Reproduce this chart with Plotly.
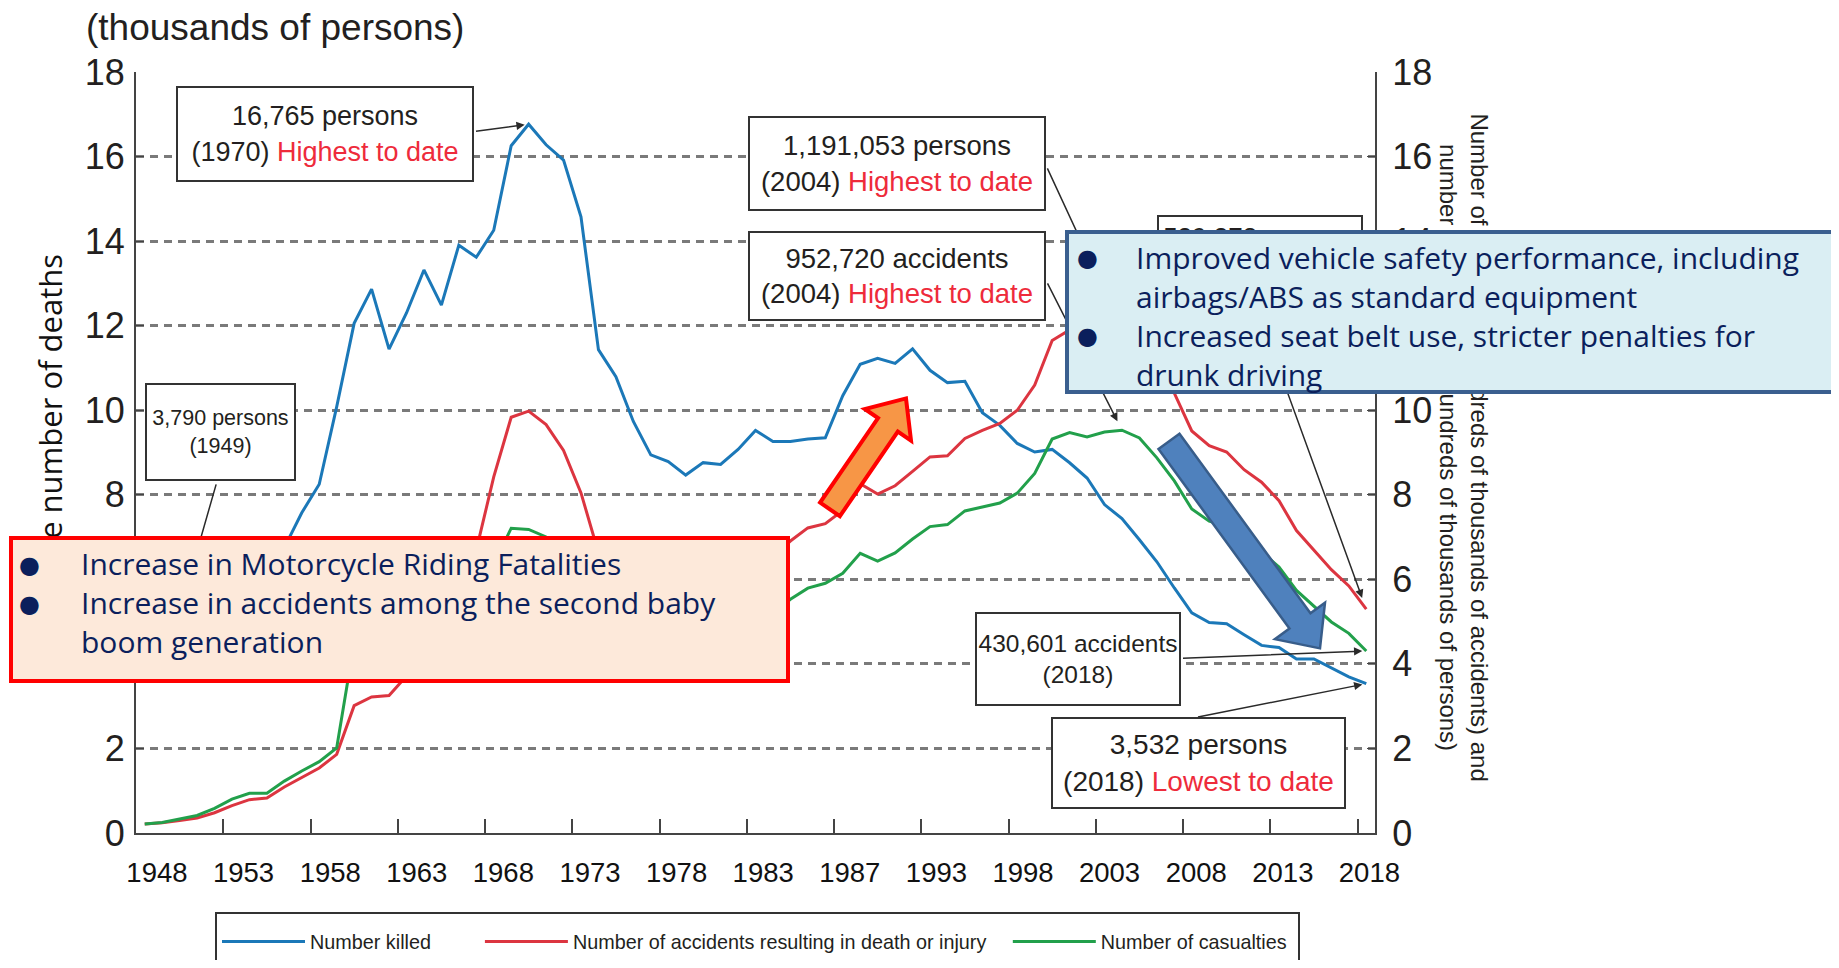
import plotly.graph_objects as go

# ---------------- data ----------------
years = list(range(1948, 2019))

# Number killed (thousands of persons)
killed = [3.848, 3.790, 4.202, 4.429, 4.696, 5.544, 6.374, 6.379, 6.751, 7.575,
          8.248, 10.079, 12.055, 12.865, 11.445, 12.301, 13.318, 12.484, 13.904, 13.618,
          14.256, 16.257, 16.765, 16.278, 15.918, 14.574, 11.432, 10.792, 9.734, 8.945,
          8.783, 8.466, 8.760, 8.719, 9.073, 9.520, 9.262, 9.261, 9.317, 9.347,
          10.344, 11.086, 11.227, 11.109, 11.452, 10.945, 10.653, 10.684, 9.943, 9.642,
          9.214, 9.012, 9.073, 8.757, 8.396, 7.768, 7.436, 6.937, 6.415, 5.796,
          5.209, 4.979, 4.948, 4.691, 4.438, 4.388, 4.113, 4.117, 3.904, 3.694, 3.532]

# red line (hundreds of thousands)
red_series = [0.215, 0.240, 0.297, 0.357, 0.480, 0.648, 0.788, 0.829, 1.088, 1.321,
              1.537, 1.860, 3.012, 3.216, 3.253, 3.714, 4.144, 4.382, 5.317, 6.690,
              8.423, 9.833, 9.979, 9.660, 9.051, 8.045, 6.629, 6.333, 6.237, 6.022,
              6.029, 6.047, 6.075, 6.161, 6.353, 6.643, 6.536, 6.906, 7.216, 7.315,
              7.632, 8.259, 8.015, 8.214, 8.555, 8.896, 8.924, 9.334, 9.521, 9.686,
              9.999, 10.594, 11.648, 11.898, 11.764, 11.894, 11.911, 11.641, 11.046, 10.404,
              9.509, 9.162, 9.012, 8.593, 8.298, 7.859, 7.155, 6.701, 6.228, 5.845, 5.294]

# green line (hundreds of thousands)
green_series = [0.213, 0.251, 0.332, 0.414, 0.585, 0.800, 0.939, 0.940, 1.227, 1.468,
                1.688, 2.013, 4.499, 4.937, 4.798, 5.320, 5.572, 5.673, 4.259, 5.215,
                6.351, 7.209, 7.181, 7.003, 6.593, 5.867, 4.905, 4.729, 4.710, 4.606,
                4.640, 4.716, 4.767, 4.856, 5.023, 5.264, 5.186, 5.528, 5.792, 5.907,
                6.145, 6.614, 6.431, 6.624, 6.953, 7.247, 7.295, 7.618, 7.711, 7.804,
                8.039, 8.504, 9.320, 9.473, 9.370, 9.483, 9.527, 9.343, 8.873, 8.327,
                7.664, 7.376, 7.259, 6.921, 6.652, 6.290, 5.738, 5.369, 4.992, 4.722, 4.306]

series_names = ["Number killed",
                "Number of accidents resulting in death or injury",
                "Number of casualties"]

x_tick_labels = ["1948", "1953", "1958", "1963", "1968", "1973", "1978", "1983",
                 "1987", "1993", "1998", "2003", "2008", "2013", "2018"]
x_label_positions = [1948.70, 1953.66, 1958.63, 1963.59, 1968.55, 1973.52, 1978.48, 1983.44,
                     1988.40, 1993.37, 1998.33, 2003.29, 2008.26, 2013.22, 2018.18]
x_tick_marks = [1952.5, 1957.5, 1962.5, 1967.5, 1972.5, 1977.5, 1982.5, 1987.5,
                1992.5, 1997.5, 2002.5, 2007.5, 2012.5, 2017.5]
y_ticks = [0, 2, 4, 6, 8, 10, 12, 14, 16, 18]

# ---------------- layout geometry (page pixels) ----------------
PAGE_W, PAGE_H = 1839, 968
OFF = 8                       # default body margin of the html page
FIG_W, FIG_H = PAGE_W - 2 * OFF, PAGE_H - 2 * OFF
L, R, T, B = 136, 1375, 71.5, 832.7      # plot area in page pixels
X0, X1 = 1947.5, 2018.5
Y0, Y1 = 0, 18

def PX(x):
    return (x - L) / (R - L)

def PY(y):
    return (B - y) / (B - T)

def data_px(xv, yv):
    return (L + (xv - X0) / (X1 - X0) * (R - L), B - (yv - Y0) / (Y1 - Y0) * (B - T))

BLUE = "#1B78B8"
RED = "#DC3540"
GREEN = "#22A04B"
TXT = "#231F20"
HL = "#EE2B3B"
NAVY = "#0B1F5C"

ARIAL = "Liberation Sans, Arial, Helvetica, sans-serif"
SEGOE = "Segoe UI, Open Sans, Noto Sans, sans-serif"

NB = "\u00a0"
legend_pad = [8, 3, 1]   # spacing after each legend entry

fig = go.Figure()
fig.add_trace(go.Scatter(x=years, y=killed, mode="lines",
                         name=series_names[0] + NB * legend_pad[0],
                         line=dict(color=BLUE, width=3), yaxis="y"))
fig.add_trace(go.Scatter(x=years, y=red_series, mode="lines",
                         name=series_names[1] + NB * legend_pad[1],
                         line=dict(color=RED, width=3), yaxis="y2"))
fig.add_trace(go.Scatter(x=years, y=green_series, mode="lines",
                         name=series_names[2] + NB * legend_pad[2],
                         line=dict(color=GREEN, width=3), yaxis="y2"))

annotations = []

def text_ann(x, y, text, size, font=ARIAL, color=TXT, xanchor="center", yanchor="middle",
             align="center", angle=0, **kw):
    d = dict(x=PX(x), y=PY(y), xref="paper", yref="paper", text=text, showarrow=False,
             font=dict(family=font, size=size, color=color), xanchor=xanchor,
             yanchor=yanchor, align=align, textangle=angle)
    d.update(kw)
    annotations.append(d)

# title
text_ann(84, 27, "(thousands of persons)", 37, xanchor="left")
# left axis title (partly hidden)
text_ann(50, 252, "The number of deaths", 31, font=SEGOE, color="#111", yanchor="top", angle=-90)
# right axis title
text_ann(1464, 447, "Number of accidents (hundreds of thousands of accidents) and<br>"
         "number of casualties (hundreds of thousands of persons)", 24, angle=90)

# arrows to data points
def arrow(xi, series, yref, tail, standoff=0):
    xv, yv = years[xi], series[xi]
    tx, ty = data_px(xv, yv)
    annotations.append(dict(x=xv, y=yv, xref="x", yref=yref, text=" ",
                            font=dict(size=2), showarrow=True, arrowhead=2,
                            arrowsize=1.1, arrowwidth=1.5, arrowcolor="#2a2a2a",
                            ax=tail[0] - tx, ay=tail[1] - ty, standoff=standoff))

i1970 = years.index(1970)
i1949 = years.index(1949)
i2004 = years.index(2004)
i2018 = years.index(2018)
arrow(i1970, killed, "y", (474, 131), 4)
arrow(i1949, killed, "y", (217, 481), 0)
arrow(i2004, red_series, "y2", (1046, 165), 0)
arrow(i2004, green_series, "y2", (1046, 280), 10)
arrow(i2018, red_series, "y2", (1254, 300), 12)
arrow(i2018, green_series, "y2", (1181, 658), 4)
arrow(i2018, killed, "y", (1196, 717), 4)

def box(x0, y0, x1, y1, text, size, valign="middle", pad=0):
    annotations.append(dict(x=PX((x0 + x1) / 2), y=PY((y0 + y1) / 2), xref="paper",
                            yref="paper", text=text, showarrow=False,
                            xanchor="center", yanchor="middle",
                            font=dict(family=ARIAL, size=size, color=TXT),
                            width=(x1 - x0) - 4 - 2 * pad, height=(y1 - y0) - 4 - 2 * pad,
                            bgcolor="white", bordercolor="#333", borderwidth=2,
                            borderpad=pad, align="center", valign=valign))

hl = "<span style='color:%s'>%%s</span>" % HL
box(176, 86, 474, 182, "16,765 persons<br>(1970) " + hl % "Highest to date", 27)
box(145, 383, 296, 481, "3,790 persons<br>(1949)", 21.5)
box(748, 116, 1046, 211, "1,191,053 persons<br>(2004) " + hl % "Highest to date", 27.5)
box(748, 231, 1046, 321, "952,720 accidents<br>(2004) " + hl % "Highest to date", 27.5)
box(1157, 215, 1363, 310, "529,378 persons<br>(2018)", 26, valign="top", pad=5)
box(975, 612, 1181, 706, "430,601 accidents<br>(2018)", 24.5)
box(1051, 717, 1346, 809, "3,532 persons<br>(2018) " + hl % "Lowest to date", 28)

# callout boxes
def callout(x0, y0, x1, y1, fill, border, bw):
    annotations.append(dict(x=PX((x0 + x1) / 2), y=PY((y0 + y1) / 2), xref="paper",
                            yref="paper", text=" ", showarrow=False,
                            xanchor="center", yanchor="middle",
                            font=dict(size=4), width=(x1 - x0) - 2 * bw,
                            height=(y1 - y0) - 2 * bw, bgcolor=fill,
                            bordercolor=border, borderwidth=bw, borderpad=0))

BULLET_FONT = "DejaVu Sans, sans-serif"

callout(9, 536, 790, 683, "#FDE9DA", "#FF0000", 4)
text_ann(29, 565, "●", 24, font=BULLET_FONT, color=NAVY)
text_ann(29, 604, "●", 24, font=BULLET_FONT, color=NAVY)
text_ann(79, 602, "Increase in Motorcycle Riding Fatalities<br>"
         "Increase in accidents among the second baby<br>boom generation",
         30, font=SEGOE, color=NAVY, xanchor="left", align="left")

callout(1065, 230, 1880, 394, "#DAEEF3", "#3A5F8F", 4)
text_ann(1087, 258, "●", 24, font=BULLET_FONT, color=NAVY)
text_ann(1087, 336, "●", 24, font=BULLET_FONT, color=NAVY)
text_ann(1134, 315.5, "Improved vehicle safety performance, including<br>"
         "airbags/ABS as standard equipment<br>"
         "Increased seat belt use, stricter penalties for<br>drunk driving",
         30, font=SEGOE, color=NAVY, xanchor="left", align="left")

# block arrows (shapes)
def block_arrow(tail, tip, shaft_w, head_w, head_len):
    tx, ty = tail
    px_, py_ = tip
    dx, dy = px_ - tx, py_ - ty
    ln = (dx * dx + dy * dy) ** 0.5
    ux, uy = dx / ln, dy / ln
    nx, ny = -uy, ux
    bx, by = px_ - ux * head_len, py_ - uy * head_len
    pts = [(tx + nx * shaft_w / 2, ty + ny * shaft_w / 2),
           (bx + nx * shaft_w / 2, by + ny * shaft_w / 2),
           (bx + nx * head_w / 2, by + ny * head_w / 2),
           (px_, py_),
           (bx - nx * head_w / 2, by - ny * head_w / 2),
           (bx - nx * shaft_w / 2, by - ny * shaft_w / 2),
           (tx - nx * shaft_w / 2, ty - ny * shaft_w / 2)]
    return "M " + " L ".join("%.5f,%.5f" % (PX(a), PY(b)) for a, b in pts) + " Z"

shapes = [
    dict(type="path", xref="paper", yref="paper", layer="above",
         path=block_arrow((830, 509), (906, 398), 24, 56, 32),
         fillcolor="#F79646", line=dict(color="#FF0000", width=4)),
    dict(type="path", xref="paper", yref="paper", layer="above",
         path=block_arrow((1169, 441), (1320, 648), 26, 62, 34),
         fillcolor="#4F81BD", line=dict(color="#385D8A", width=2.5)),
]

fig.update_layout(
    width=FIG_W, height=FIG_H,
    margin=dict(l=L - OFF, r=FIG_W - (R - OFF), t=T - OFF, b=FIG_H - (B - OFF),
                autoexpand=False),
    paper_bgcolor="white", plot_bgcolor="white",
    showlegend=True,
    legend=dict(orientation="h", x=PX(215), y=PY(912), xanchor="left", yanchor="top",
                bordercolor="#333", borderwidth=2, bgcolor="white",
                font=dict(family=ARIAL, size=19.8, color=TXT), itemwidth=83,
                title=dict(text=" ", font=dict(size=6), side="top"),
                traceorder="normal"),
    xaxis=dict(range=[X0, X1], tickmode="array", tickvals=x_label_positions,
               ticktext=x_tick_labels, ticks="", showgrid=False, zeroline=False,
               showline=True, linecolor="#444", linewidth=2,
               tickfont=dict(family=ARIAL, size=27.5, color="#111"),
               ticklabelstandoff=14,
               minor=dict(tickmode="array", tickvals=x_tick_marks, ticks="inside",
                          ticklen=14, tickwidth=1.5, tickcolor="#444", showgrid=False)),
    yaxis=dict(range=[Y0, Y1], tickmode="array", tickvals=y_ticks, showgrid=True,
               gridcolor="#7a7a7a", gridwidth=2.5, griddash="8px,6px", zeroline=False,
               showline=True, linecolor="#444", linewidth=2, ticks="inside",
               ticklen=8, tickcolor="#444", ticklabelstandoff=2,
               tickfont=dict(family=ARIAL, size=36, color=TXT)),
    yaxis2=dict(range=[Y0, Y1], tickmode="array", tickvals=y_ticks, overlaying="y",
                side="right", showgrid=False, zeroline=False, showline=True,
                linecolor="#444", linewidth=2, ticks="inside", ticklen=8,
                tickcolor="#444", ticklabelstandoff=8,
                tickfont=dict(family=ARIAL, size=36, color=TXT)),
    annotations=annotations,
    shapes=shapes,
)

fig.write_html("out.html")
